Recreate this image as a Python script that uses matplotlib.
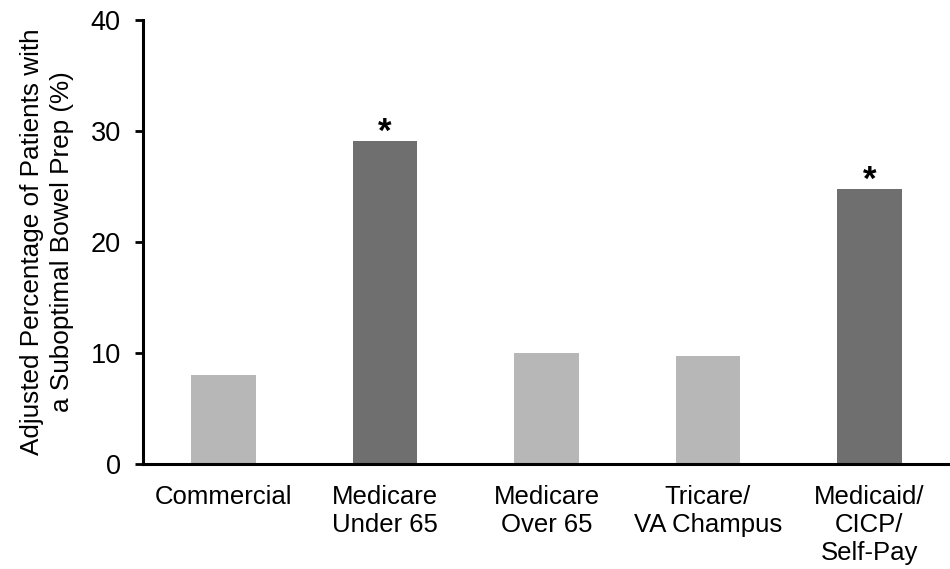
import numpy as np
import matplotlib.pyplot as plt

plt.rcParams['font.family'] = ['Liberation Sans', 'DejaVu Sans']

# 各保险类型的调整后比例 (%)
categories = ['Commercial', 'Medicare\nUnder 65', 'Medicare\nOver 65',
              'Tricare/\nVA Champus', 'Medicaid/\nCICP/\nSelf-Pay']
values = [8.0, 29.1, 10.0, 9.7, 24.8]
significant = [False, True, False, False, True]
yticks = [0, 10, 20, 30, 40]

light = '#b7b7b7'
dark = '#6f6f6f'
colors = [dark if s else light for s in significant]

fig = plt.figure(figsize=(9.5, 5.69), dpi=100)
ax = fig.add_axes([0.1505, 0.1845, 0.8495, 0.7804])

x = np.arange(len(categories))
ax.bar(x, values, width=0.4, color=colors, edgecolor='none', zorder=2)

# 显著性标记
for xi, v, s in zip(x, values, significant):
    if s:
        ax.text(xi, v - 0.7, '*', ha='center', va='bottom',
                fontsize=25, fontweight='bold')

ax.set_xlim(-0.5, 4.5)
ax.set_ylim(0, 40)
ax.set_yticks(yticks)
ax.set_xticks(x)
ax.set_xticklabels(categories, fontsize=18.5, linespacing=1.22)
ax.tick_params(axis='x', length=0, pad=15)
ax.tick_params(axis='y', labelsize=19.5, length=6, width=2, direction='out', pad=10)

for side in ['top', 'right']:
    ax.spines[side].set_visible(False)
for side in ['left', 'bottom']:
    ax.spines[side].set_linewidth(2.2)

ax.set_ylabel('Adjusted Percentage of Patients with\na Suboptimal Bowel Prep (%)',
              fontsize=18.8, linespacing=1.3, labelpad=12)

fig.savefig('out.png', dpi=100)
